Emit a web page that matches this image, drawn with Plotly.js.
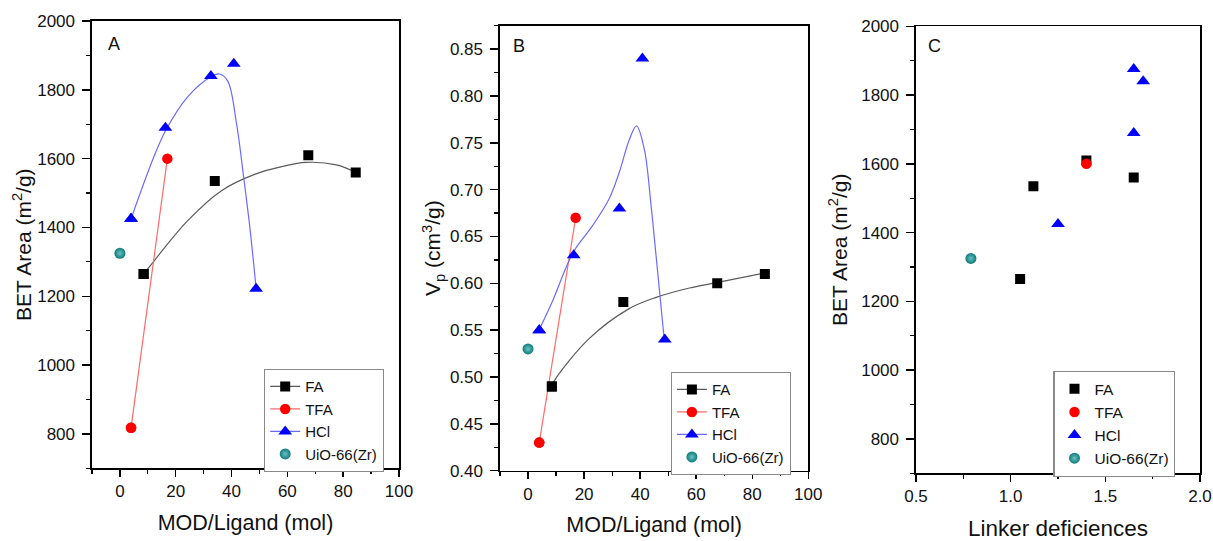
<!DOCTYPE html>
<html>
<head>
<meta charset="utf-8">
<script src="https://cdn.plot.ly/plotly-3.0.1.min.js"></script>
<style>
  html, body { margin: 0; padding: 0; background: #fff; }
  #chart { width: 1213px; height: 541px; }
</style>
</head>
<body>
<div id="chart"></div>
<script>
// ---------- data ----------
// MOD/Ligand ratio (mol)
const faMod  = [8.5, 34, 67.5, 84.5];
const tfaMod = [4, 17];
const hclMod = [4, 16.3, 32.6, 40.8, 48.8];
const uioMod = [0];

// BET area (m2/g)
const faBET  = [1265, 1535, 1610, 1560];
const tfaBET = [818, 1600];
const hclBET = [1425, 1690, 1840, 1876, 1222];
const uioBET = [1325];

// Pore volume Vp (cm3/g)
const faVp  = [0.49, 0.58, 0.60, 0.61];
const tfaVp = [0.43, 0.67];
const hclVp = [0.55, 0.63, 0.68, 0.84, 0.54];
const uioVp = [0.53];

// Linker deficiencies (null = not shown in panel C)
const faLD  = [1.05, 1.12, 1.40, 1.65];
const tfaLD = [null, 1.40];
const hclLD = [1.25, 1.65, 1.70, 1.65, null];
const uioLD = [0.79];

// Fitted guide curves
const faFitA_x  = [8.5, 10.3, 24.2, 36.4, 48.5, 58.2, 66.5, 77.6, 84.5];
const faFitA_y  = [1265, 1283, 1419, 1507, 1555, 1577, 1589, 1582, 1560];
const hclFitA_x = [4, 12.1, 16.4, 24.2, 32.6, 35.6, 38.6, 41.8, 44.2, 46.7, 48.8];
const hclFitA_y = [1425, 1604, 1682, 1779, 1838, 1846, 1826, 1701, 1555, 1390, 1222];
const faFitB_x  = [8.5, 9.8, 21.8, 36.1, 45.7, 57.6, 67.7, 84.5];
const faFitB_y  = [0.49, 0.498, 0.541, 0.573, 0.585, 0.595, 0.601, 0.611];
const hclFitB_x = [4.4, 8.6, 16.1, 22.9, 28.9, 32.5, 36.1, 38.7, 41.5, 43.9, 45.7, 48.6];
const hclFitB_y = [0.553, 0.580, 0.633, 0.661, 0.690, 0.718, 0.753, 0.768, 0.743, 0.683, 0.629, 0.54];

const seriesNames = ['FA', 'TFA', 'HCl', 'UiO-66(Zr)'];

// ---------- styles ----------
const FONT = '"Liberation Sans", Arial, Helvetica, sans-serif';
const cFA = '#000000', cTFA = '#ff0000', cHCl = '#0000ff', cUiO = '#0d7b7b';
const lFA = '#5a5a5a', lTFA = '#ff6a6a', lHCl = '#6a6aff';
const mFA  = {symbol: 'square', size: 10, color: cFA};
const mTFA = {symbol: 'circle', size: 10.5, color: cTFA};
const mHCl = {symbol: 'triangle-up', size: 12, color: cHCl};
const mUiO = {symbol: 'circle', size: 11, color: cUiO, gradient: {type: 'radial', color: '#6cc0c0'}};

function pts(x, y, m, xa, ya, name, legend, show, rank) {
  return {x: x, y: y, type: 'scatter', mode: 'markers', marker: m, xaxis: xa, yaxis: ya,
          name: name, legend: legend, showlegend: !!show, legendrank: rank || 1000, hoverinfo: 'skip'};
}
function curve(x, y, col, xa, ya, shape) {
  return {x: x, y: y, type: 'scatter', mode: 'lines', line: {color: col, width: 1.2, shape: shape || 'spline', smoothing: 1},
          xaxis: xa, yaxis: ya, showlegend: false, hoverinfo: 'skip'};
}
// legend key: one real data point redrawn exactly on top of its marker, shown as line+marker in the legend
function legendKey(x, y, name, m, col, legend, xa, ya, rank) {
  return {x: [x], y: [y], type: 'scatter', mode: 'lines+markers',
          marker: m, line: {color: col, width: 1.2}, name: name, legend: legend, legendrank: rank,
          xaxis: xa, yaxis: ya, showlegend: true, hoverinfo: 'skip'};
}

const traces = [
  // Panel A
  curve(faFitA_x, faFitA_y, lFA, 'x', 'y'),
  curve(tfaMod, tfaBET, lTFA, 'x', 'y', 'linear'),
  curve(hclFitA_x, hclFitA_y, lHCl, 'x', 'y'),
  pts(faMod, faBET, mFA, 'x', 'y'),
  pts(tfaMod, tfaBET, mTFA, 'x', 'y'),
  pts(hclMod, hclBET, mHCl, 'x', 'y'),
  pts(uioMod, uioBET, mUiO, 'x', 'y', seriesNames[3], 'legend', true, 4),
  legendKey(faMod[0], faBET[0], seriesNames[0], mFA, lFA, 'legend', 'x', 'y', 1),
  legendKey(tfaMod[0], tfaBET[0], seriesNames[1], mTFA, lTFA, 'legend', 'x', 'y', 2),
  legendKey(hclMod[0], hclBET[0], seriesNames[2], mHCl, lHCl, 'legend', 'x', 'y', 3),
  // Panel B
  curve(faFitB_x, faFitB_y, lFA, 'x2', 'y2'),
  curve(tfaMod, tfaVp, lTFA, 'x2', 'y2', 'linear'),
  curve(hclFitB_x, hclFitB_y, lHCl, 'x2', 'y2'),
  pts(faMod, faVp, mFA, 'x2', 'y2'),
  pts(tfaMod, tfaVp, mTFA, 'x2', 'y2'),
  pts(hclMod, hclVp, mHCl, 'x2', 'y2'),
  pts(uioMod, uioVp, mUiO, 'x2', 'y2', seriesNames[3], 'legend2', true, 4),
  legendKey(faMod[0], faVp[0], seriesNames[0], mFA, lFA, 'legend2', 'x2', 'y2', 1),
  legendKey(tfaMod[0], tfaVp[0], seriesNames[1], mTFA, lTFA, 'legend2', 'x2', 'y2', 2),
  legendKey(hclMod[0], hclVp[0], seriesNames[2], mHCl, lHCl, 'legend2', 'x2', 'y2', 3),
  // Panel C
  pts(faLD, faBET, mFA, 'x3', 'y3', seriesNames[0], 'legend3', true, 1),
  pts(tfaLD, tfaBET, mTFA, 'x3', 'y3', seriesNames[1], 'legend3', true, 2),
  pts(hclLD, hclBET, mHCl, 'x3', 'y3', seriesNames[2], 'legend3', true, 3),
  pts(uioLD, uioBET, mUiO, 'x3', 'y3', seriesNames[3], 'legend3', true, 4)
];

const W = 1213, H = 541;
const px = v => v / W, py = v => 1 - v / H;

function xAxis(dom, range, dtick, minor, title, tfs, anchor, fmt, so) {
  return {domain: dom, range: range, dtick: dtick, tick0: 0, anchor: anchor,
    showline: true, linecolor: '#000', linewidth: 1.6, mirror: true,
    ticks: 'outside', ticklen: 7, tickwidth: 1.4, tickcolor: '#000',
    minor: {dtick: minor, ticks: 'outside', ticklen: 4, tickwidth: 1.2, tickcolor: '#000'},
    showgrid: false, zeroline: false, automargin: false, tickformat: fmt,
    tickfont: {family: FONT, size: 17, color: '#111'},
    title: {text: title, font: {family: FONT, size: tfs, color: '#111'}, standoff: so}};
}
function yAxis(dom, range, dtick, minor, title, anchor, fmt, so) {
  return {domain: dom, range: range, dtick: dtick, tick0: 0, anchor: anchor,
    showline: true, linecolor: '#000', linewidth: 1.6, mirror: true,
    ticks: 'outside', ticklen: 8, tickwidth: 1.4, tickcolor: '#000',
    minor: {dtick: minor, ticks: 'outside', ticklen: 4, tickwidth: 1.2, tickcolor: '#000'},
    showgrid: false, zeroline: false, automargin: false, tickformat: fmt,
    ticklabelstandoff: 4,
    tickfont: {family: FONT, size: 17, color: '#111'},
    title: {text: title, font: {family: FONT, size: 21, color: '#111'}, standoff: so}};
}
function legendBox(x, y, fs, ew) {
  return {x: x, y: y, xanchor: 'left', yanchor: 'top', bgcolor: '#fff',
    bordercolor: '#8a8a8a', borderwidth: 1.2, font: {family: FONT, size: fs, color: '#111'},
    entrywidth: ew, entrywidthmode: 'pixels',
    tracegroupgap: 0, itemclick: false, itemdoubleclick: false};
}

const layout = {
  width: W, height: H,
  margin: {l: 0, r: 0, t: 0, b: 0},
  paper_bgcolor: '#fff', plot_bgcolor: '#fff',
  showlegend: true,
  hovermode: false,
  font: {family: FONT, color: '#111'},
  xaxis:  xAxis([px(92), px(399)], [-10, 100], 20, 10, 'MOD/Ligand (mol)', 21.5, 'y', 'd', 14),
  yaxis:  yAxis([py(468.3), py(21)], [700, 2000], 200, 100, 'BET Area (m<sup>2</sup>/g)', 'x', 'd', 0),
  xaxis2: xAxis([px(500), px(808.3)], [-10, 100], 20, 10, 'MOD/Ligand (mol)', 21.5, 'y2', 'd', 14),
  yaxis2: yAxis([py(470.7), py(25.7)], [0.40, 0.875], 0.05, 0.025, 'V<sub>p</sub> (cm<sup>3</sup>/g)', 'x2', '.2f', 3),
  xaxis3: xAxis([px(916), px(1200)], [0.5, 2.0], 0.5, 0.25, 'Linker deficiences', 22.5, 'y3', '.1f', 17),
  yaxis3: yAxis([py(473.3), py(26.3)], [700, 2000], 200, 100, 'BET Area (m<sup>2</sup>/g)', 'x3', 'd', 8),
  legend:  legendBox(px(264), py(369), 15, 82),
  legend2: legendBox(px(670.7), py(372), 15, 82),
  legend3: legendBox(px(1053.3), py(371), 15.5, 98),
  annotations: [
    {text: 'A', x: px(106), y: py(44), xref: 'paper', yref: 'paper', xanchor: 'left', yanchor: 'middle', showarrow: false, font: {family: FONT, size: 18, color: '#111'}},
    {text: 'B', x: px(510.5), y: py(46), xref: 'paper', yref: 'paper', xanchor: 'left', yanchor: 'middle', showarrow: false, font: {family: FONT, size: 18, color: '#111'}},
    {text: 'C', x: px(925.5), y: py(46), xref: 'paper', yref: 'paper', xanchor: 'left', yanchor: 'middle', showarrow: false, font: {family: FONT, size: 18, color: '#111'}}
  ]
};

Plotly.newPlot('chart', traces, layout, {staticPlot: true, displayModeBar: false});
</script>
</body>
</html>
